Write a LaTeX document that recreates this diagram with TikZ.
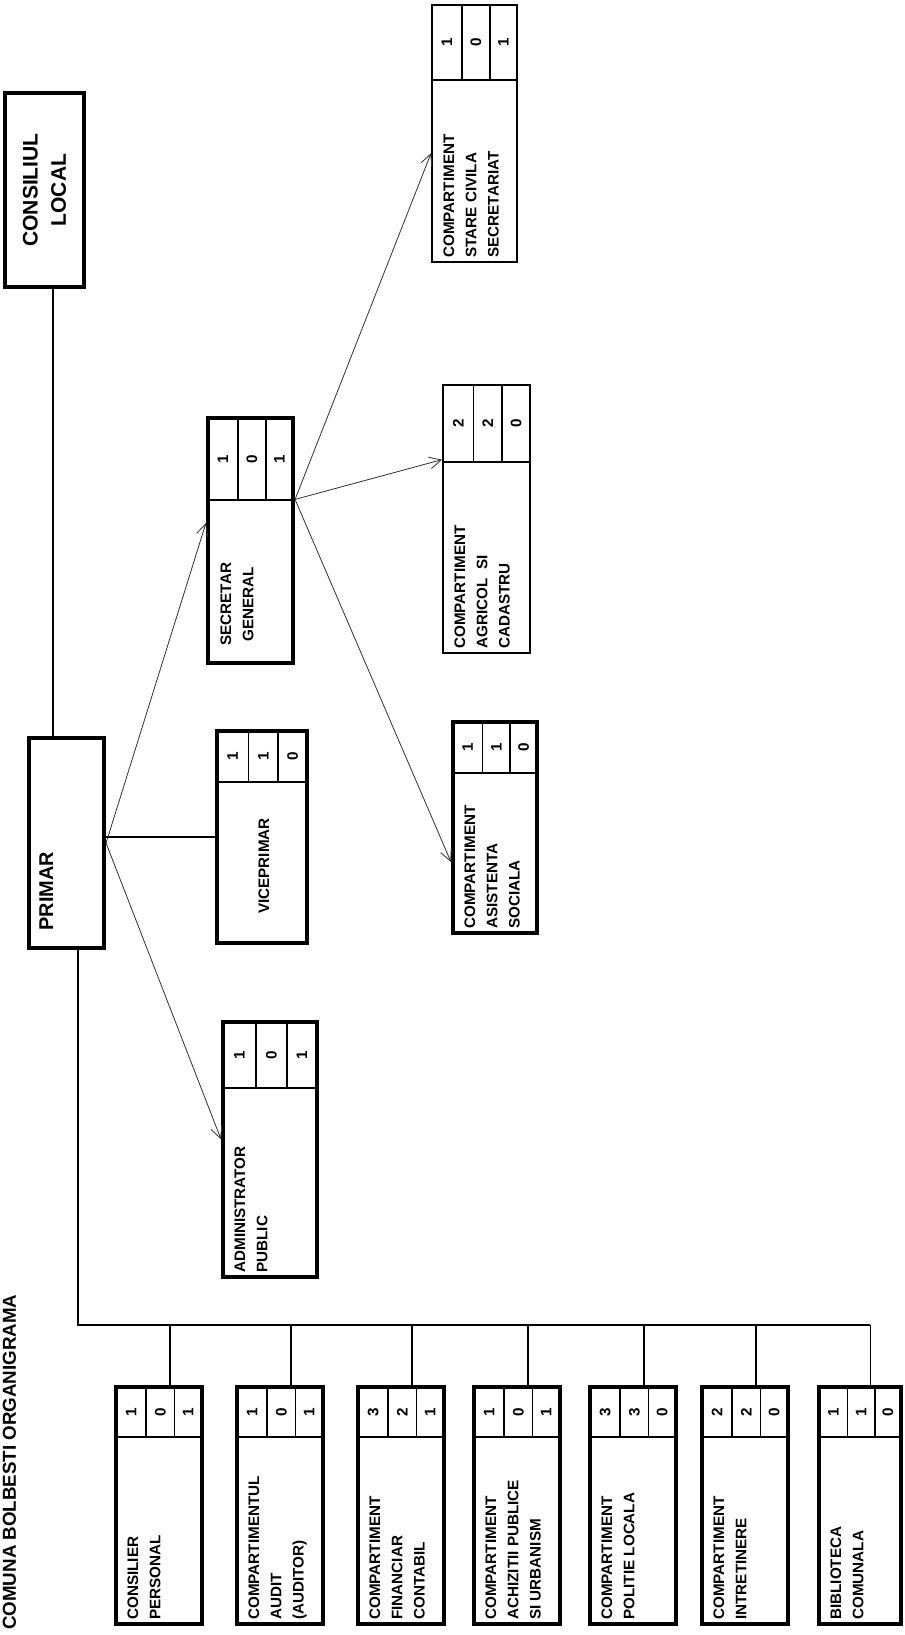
\documentclass[tikz,border=0pt]{standalone}
\usepackage{fontspec}
\setmainfont{Liberation Sans}
\usetikzlibrary{arrows.meta,fit,calc}

\tikzset{
  thickbox/.style={draw, line width=3.5pt},
  thinbox/.style={draw, line width=1.6pt},
  divider/.style={line width=1.3pt},
  lbl/.style={rotate=90, align=left, inner sep=1pt, font=\fontsize{13}{19}\selectfont\bfseries},
  num/.style={rotate=90, inner sep=0pt, font=\fontsize{13}{15}\selectfont\bfseries},
  link/.style={line width=1.2pt},
  arr/.style={line width=0.7pt, black!80, -{Straight Barb[length=3.5mm, width=3.5mm]}}
}

\newcommand{\orgbox}[8]{%
  \node[fit={(#2,#3) (#4,#5)}, inner sep=0pt, #8] (#1) {};
  \draw[divider] (#2,#6) -- (#4,#6);
  \draw[divider] ({#2+0.35*(#4-#2)},#3) -- ({#2+0.35*(#4-#2)},#6);
  \draw[divider] ({#2+0.68*(#4-#2)},#3) -- ({#2+0.68*(#4-#2)},#6);
  \coordinate (#1-c1) at ({#2+0.175*(#4-#2)},{(#3+#6)/2});
  \coordinate (#1-c2) at ({#2+0.515*(#4-#2)},{(#3+#6)/2});
  \coordinate (#1-c3) at ({#2+0.84*(#4-#2)},{(#3+#6)/2});
  \coordinate (#1-top) at ($(#1.north west)!0.62!(#1.north east)$);
  \node[lbl, anchor=north west] (#1-txt) at ({#2+10},{#5-3}) {#7};
}
\newcommand{\cellnums}[4]{%
  \node[num] (#1-n1) at (#1-c1) {#2};
  \node[num] (#1-n2) at (#1-c2) {#3};
  \node[num] (#1-n3) at (#1-c3) {#4};
}

\begin{document}
\begin{tikzpicture}[x=0.3mm, y=-0.3mm]
\useasboundingbox (0,0) rectangle (904,1635);

\node[fit={(5,93) (84,287)}, inner sep=0pt, thickbox] (cl) {};
\node[lbl, align=center, font=\fontsize{18}{24}\selectfont\bfseries] (cl-txt) at (cl.center) {CONSILIUL\\LOCAL};

\node[fit={(29,738) (104,948)}, inner sep=0pt, thickbox] (primar) {};
\node[lbl, font=\fontsize{17}{20}\selectfont\bfseries, anchor=north west] (primar-txt) at (38,932) {PRIMAR};

\node[font=\fontsize{16}{20}\selectfont\bfseries, rotate=90, anchor=base west, inner sep=0pt] (title) at (16,1630) {COMUNA BOLBESTI ORGANIGRAMA};

\orgbox{sg}{208}{418}{293}{663}{500}{}{thickbox}
\cellnums{sg}{1}{0}{1}
\node[lbl, align=center, anchor=north west] (sg-name) at (219,647) {SECRETAR\\GENERAL};

\orgbox{vp}{217}{731}{307}{943}{782}{}{thickbox}
\cellnums{vp}{1}{1}{0}
\node[lbl] (vp-name) at (264,866) {VICEPRIMAR};

\orgbox{ap}{223}{1022}{317}{1277}{1088}{ADMINISTRATOR\\PUBLIC}{thickbox}
\cellnums{ap}{1}{0}{1}

\orgbox{sc}{432}{5}{517}{262}{80}{COMPARTIMENT\\STARE CIVILA\\SECRETARIAT}{thinbox}
\cellnums{sc}{1}{0}{1}

\orgbox{ac}{443}{385}{530}{653}{462}{COMPARTIMENT\\AGRICOL\ \ SI\\CADASTRU}{thinbox}
\cellnums{ac}{2}{2}{0}

\orgbox{as}{453}{722}{537}{933}{773}{COMPARTIMENT\\ASISTENTA\\SOCIALA}{thickbox}
\cellnums{as}{1}{1}{0}

\orgbox{cp}{116}{1387}{202}{1624}{1437}{CONSILIER\\PERSONAL}{thickbox}
\cellnums{cp}{1}{0}{1}
\orgbox{au}{237}{1387}{323}{1624}{1437}{COMPARTIMENTUL\\AUDIT\\(AUDITOR)}{thickbox}
\cellnums{au}{1}{0}{1}
\orgbox{fc}{358}{1387}{444}{1624}{1437}{COMPARTIMENT\\FINANCIAR\\CONTABIL}{thickbox}
\cellnums{fc}{3}{2}{1}
\orgbox{apu}{474}{1387}{560}{1624}{1437}{COMPARTIMENT\\ACHIZITII PUBLICE\\SI URBANISM}{thickbox}
\cellnums{apu}{1}{0}{1}
\orgbox{pl}{590}{1387}{676}{1624}{1437}{COMPARTIMENT\\POLITIE LOCALA}{thickbox}
\cellnums{pl}{3}{3}{0}
\orgbox{ir}{702}{1387}{788}{1624}{1437}{COMPARTIMENT\\INTRETINERE}{thickbox}
\cellnums{ir}{2}{2}{0}
\orgbox{bc}{819}{1387}{901}{1624}{1437}{BIBLIOTECA\\COMUNALA}{thickbox}
\cellnums{bc}{1}{1}{0}

\coordinate (cl-out) at ($(cl.south west)!0.6!(cl.south east)$);
\draw[link] (cl-out) -- (cl-out |- primar.north);
\draw[link] (vp.west) -- (vp.west -| primar.east);
\draw[arr] (primar.east) -- ($(sg.north west)!0.43!(sg.south west)$);
\draw[arr] (primar.east) -- ($(ap.north west)!0.46!(ap.south west)$);

\coordinate (sg-out) at ($(sg.north east)!0.335!(sg.south east)$);
\draw[arr] (sg-out) -- ($(sc.north west)!0.576!(sc.south west)$);
\draw[arr] (sg-out) -- ($(ac.north west)!0.28!(ac.south west)$);
\draw[arr] (sg-out) -- ($(as.north west)!0.66!(as.south west)$);

\coordinate (busL) at (78,1325);
\draw[link] (primar.south -| busL) -- (busL) -- (busL -| bc-top);
\draw[link] (cp-top) -- (cp-top |- busL);
\draw[link] (au-top) -- (au-top |- busL);
\draw[link] (fc-top) -- (fc-top |- busL);
\draw[link] (apu-top) -- (apu-top |- busL);
\draw[link] (pl-top) -- (pl-top |- busL);
\draw[link] (ir-top) -- (ir-top |- busL);
\draw[link] (bc-top) -- (bc-top |- busL);
\end{tikzpicture}
\end{document}
